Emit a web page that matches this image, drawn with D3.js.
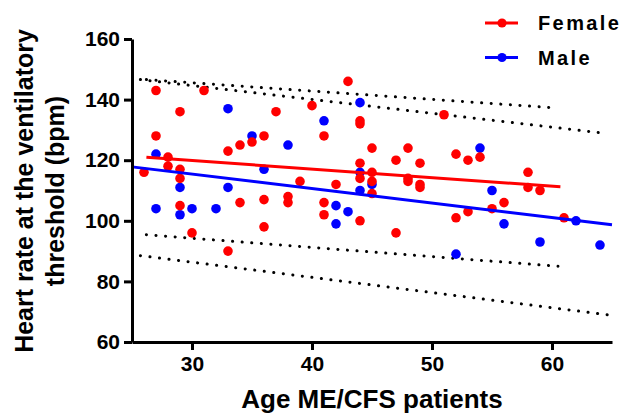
<!DOCTYPE html>
<html>
<head>
<meta charset="utf-8">
<script src="https://cdn.jsdelivr.net/npm/d3@7"></script>
<style>
  body { margin: 0; background: #fff; }
  svg { display: block; font-family: "Liberation Sans", Arial, sans-serif; }
</style>
</head>
<body>
<svg id="chart"></svg>
<script>
// Data: [age, heart rate (bpm)]
const femalePoints = [
  [26,116],[27,143],[27,128],[28,121],[28,118],[29,136],[29,117],[29,114],[29,105],[30,96],
  [31,143],[33,123],[33,90],[34,125],[34,106],[35,126],[36,128],[36,107],[36,98],[37,136],
  [38,108],[38,106],[39,113],[40,138],[41,128],[41,106],[41,102],[42,112],[43,146],[44,133],
  [44,132],[44,119],[44,114],[44,100],[45,124],[45,116],[45,113],[45,109],[47,120],[47,96],
  [48,124],[48,114],[48,113],[49,119],[49,112],[49,111],[51,135],[52,122],[52,101],[53,120],
  [53,103],[54,121],[55,104],[56,106],[58,116],[58,111],[59,110],[61,101]
];
const malePoints = [
  [27,122],[27,104],[29,111],[29,102],[30,104],[32,104],[33,137],[33,111],[35,128],[36,117],
  [38,125],[41,133],[42,105],[42,99],[43,103],[44,139],[44,116],[44,110],[45,112],[52,89],
  [54,124],[55,110],[56,99],[59,93],[62,100],[64,92]
];

// Regression lines and prediction bands (end points)
const femaleFit = [[26.2, 121.0], [60.7, 111.2]];
const maleFit = [[25, 117.8], [65, 98.7]];
const femaleBandUpper = [[26.2, 146.6], [60.5, 137.2]];
const femaleBandLower = [[26.2, 95.4], [60.5, 85.0]];
const maleBandUpper = [[25.7, 146.6], [64.6, 128.8]];
const maleBandLower = [[25.7, 88.5], [64.6, 69.0]];

const xTicks = [30, 40, 50, 60];
const yTicks = [60, 80, 100, 120, 140, 160];
const legendItems = [
  { name: "Female", color: "#ff0000" },
  { name: "Male", color: "#0000ff" }
];

// Chart dimensions
const svgWidth = 621;
const svgHeight = 415;
const margin = { top: 39, right: 9, bottom: 73, left: 132 };
const width = svgWidth - margin.left - margin.right;
const height = svgHeight - margin.top - margin.bottom;

const root = d3.select("#chart")
  .attr("width", svgWidth)
  .attr("height", svgHeight);

const svg = root.append("g")
  .attr("transform", `translate(${margin.left},${margin.top})`);

const x = d3.scaleLinear().domain([25, 65]).range([0, width]);
const y = d3.scaleLinear().domain([60, 160]).range([height, 0]);

const line = d3.line()
  .x(d => x(d[0]))
  .y(d => y(d[1]));

// Dotted prediction bands
[femaleBandUpper, femaleBandLower, maleBandUpper, maleBandLower].forEach(band => {
  svg.append("path")
    .attr("d", line(band))
    .attr("fill", "none")
    .attr("stroke", "#000")
    .attr("stroke-width", 3)
    .attr("stroke-linecap", "round")
    .attr("stroke-dasharray", "0.1,9.5");
});

// Male points first, females drawn on top
svg.append("g")
  .selectAll("circle")
  .data(malePoints)
  .join("circle")
  .attr("cx", d => x(d[0]))
  .attr("cy", d => y(d[1]))
  .attr("r", 4.8)
  .attr("fill", "#0000ff");

svg.append("g")
  .selectAll("circle")
  .data(femalePoints)
  .join("circle")
  .attr("cx", d => x(d[0]))
  .attr("cy", d => y(d[1]))
  .attr("r", 4.8)
  .attr("fill", "#ff0000");

// Regression lines
svg.append("path")
  .attr("d", line(femaleFit))
  .attr("fill", "none")
  .attr("stroke", "#ff0000")
  .attr("stroke-width", 3);

svg.append("path")
  .attr("d", line(maleFit))
  .attr("fill", "none")
  .attr("stroke", "#0000ff")
  .attr("stroke-width", 3);

// Axes
const xAxis = svg.append("g")
  .attr("transform", `translate(0,${height})`)
  .call(d3.axisBottom(x).tickValues(xTicks).tickSize(8).tickSizeOuter(0).tickPadding(6));

const yAxis = svg.append("g")
  .call(d3.axisLeft(y).tickValues(yTicks).tickSize(8).tickSizeOuter(0).tickPadding(4));

[xAxis, yAxis].forEach(ax => {
  ax.select(".domain").attr("stroke", "#000").attr("stroke-width", 3);
  ax.selectAll(".tick line").attr("stroke", "#000").attr("stroke-width", 3);
  ax.selectAll(".tick text")
    .attr("fill", "#000")
    .attr("font-size", 21)
    .attr("font-weight", "bold")
    .attr("font-family", "Liberation Sans, Arial, sans-serif");
});

// X axis label
root.append("text")
  .attr("x", margin.left + width / 2)
  .attr("y", 408)
  .attr("text-anchor", "middle")
  .attr("font-size", 26)
  .attr("font-weight", "bold")
  .text("Age ME/CFS patients");

// Y axis label (two lines)
const yLabel = root.append("text")
  .attr("transform", "translate(33,191) rotate(-90)")
  .attr("text-anchor", "middle")
  .attr("font-size", 25)
  .attr("font-weight", "bold");
yLabel.append("tspan").attr("x", 0).attr("dy", 0).text("Heart rate at the ventilatory");
yLabel.append("tspan").attr("x", 0).attr("dy", 31).text("threshold (bpm)");

// Legend
const legend = root.append("g")
  .selectAll("g")
  .data(legendItems)
  .join("g")
  .attr("transform", (d, i) => `translate(485,${23 + i * 34.5})`);

legend.append("line")
  .attr("x1", 0).attr("x2", 33)
  .attr("stroke", d => d.color)
  .attr("stroke-width", 3);

legend.append("circle")
  .attr("cx", 17).attr("r", 4.6)
  .attr("fill", d => d.color);

legend.append("text")
  .attr("x", 53)
  .attr("y", 7)
  .attr("font-size", 20)
  .attr("font-weight", "bold")
  .attr("letter-spacing", 2.4)
  .text(d => d.name);
</script>
</body>
</html>
